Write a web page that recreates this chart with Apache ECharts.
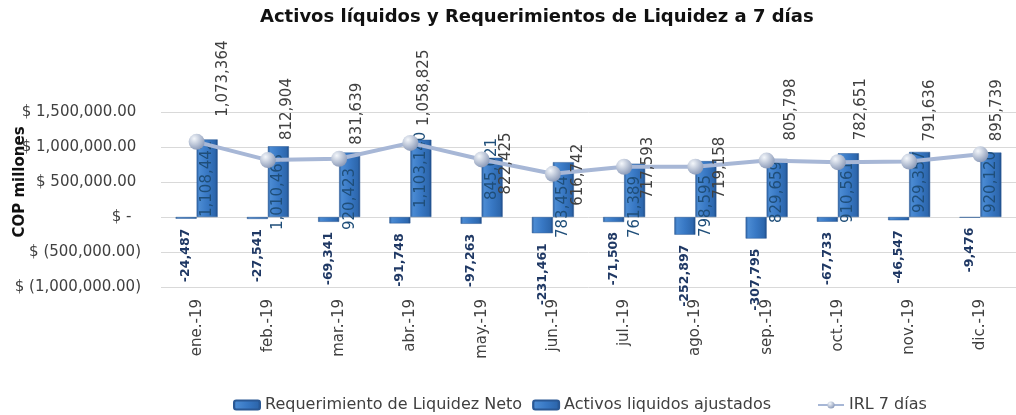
<!DOCTYPE html>
<html>
<head>
<meta charset="utf-8">
<script src="https://cdn.jsdelivr.net/npm/echarts@6/dist/echarts.min.js"></script>
<style>
  html, body { margin: 0; background: #fff; }
  #chart { width: 1016px; height: 415px; }
</style>
</head>
<body>
<div id="chart"></div>
<script>
// datos
const months = ['ene.-19', 'feb.-19', 'mar.-19', 'abr.-19', 'may.-19', 'jun.-19',
                'jul.-19', 'ago.-19', 'sep.-19', 'oct.-19', 'nov.-19', 'dic.-19'];
const requerimiento = [-24487, -27541, -69341, -91748, -97263, -231461,
                       -71508, -252897, -307795, -67733, -46547, -9476];
const activos = [1108442, 1010463, 920423, 1103140, 845021, 783454,
                 761389, 798595, 829659, 910561, 929357, 920120];
const irl = [1073364, 812904, 831639, 1058825, 822425, 616742,
             717593, 719158, 805798, 782651, 791636, 895739];
const yMin = -1000000, yMax = 1500000, yStep = 500000;

// desplazamientos manuales de etiquetas en pantalla (como en el original)
const activosLabelDy = [0, 13, 13, -9, -17, 21, 21, 20, 6, 6, -4, -4];
const irlLabelDx = [26, 19, 18, 14, 24, 25, 24, 25, 24, 23, 21, 17];
const irlLabelDy = [-25, -20, -14, -17, 35, 32, 32, 32, -20, -22, -20, -13];

const FONT = 'DejaVu Sans';

function miles(n, dec) {
  let s = Math.abs(n).toFixed(dec || 0);
  let parts = s.split('.');
  parts[0] = parts[0].replace(/\B(?=(\d{3})+(?!\d))/g, ',');
  return (n < 0 ? '-' : '') + parts.join('.');
}

// las etiquetas van giradas 90 grados: dx/dy de labelLayout se aplican en el marco girado
function shift(sx, sy) {
  return { dx: -sy, dy: sx };
}

const barColor = {
  type: 'linear', x: 0, y: 0, x2: 1, y2: 0,
  colorStops: [
    { offset: 0, color: '#2a5d9c' },
    { offset: 0.12, color: '#4b8bd3' },
    { offset: 0.5, color: '#3878c4' },
    { offset: 0.88, color: '#2d67ad' },
    { offset: 1, color: '#1d4a85' }
  ]
};

const legendBase = {
  top: 392,
  itemGap: 10,
  itemWidth: 26,
  itemHeight: 9,
  textStyle: { fontFamily: FONT, fontSize: 16, color: '#404040' }
};

const chart = echarts.init(document.getElementById('chart'));

chart.setOption({
  backgroundColor: '#fff',
  animation: false,
  title: {
    text: 'Activos líquidos y Requerimientos de Liquidez a 7 días',
    left: 255,
    top: 3,
    textStyle: { fontFamily: FONT, fontSize: 18, fontWeight: 'bold', color: '#111' }
  },
  legend: [
    Object.assign({ left: 228, data: ['Requerimiento de Liquidez Neto', 'Activos liquidos ajustados'] }, legendBase),
    Object.assign({ left: 812, data: ['IRL 7 días'] }, legendBase)
  ],
  graphic: [{
    type: 'text',
    x: 20,
    y: 182,
    rotation: Math.PI / 2,
    style: {
      text: 'COP millones',
      font: 'bold 15px "DejaVu Sans"',
      fill: '#111',
      align: 'center',
      verticalAlign: 'middle'
    }
  }],
  grid: { left: 161, top: 112, width: 859, height: 175 },
  xAxis: {
    type: 'category',
    data: months,
    axisLine: { show: false },
    axisTick: { show: false },
    axisLabel: {
      rotate: 90,
      margin: 12,
      fontFamily: FONT,
      fontSize: 15,
      color: '#404040'
    }
  },
  yAxis: {
    type: 'value',
    min: yMin,
    max: yMax,
    interval: yStep,
    axisLine: { show: false },
    axisTick: { show: false },
    splitLine: { show: true, lineStyle: { color: '#d9d9d9', width: 1 } },
    axisLabel: {
      margin: 20,
      fontFamily: FONT,
      fontSize: 15,
      color: '#404040',
      formatter: function (v) {
        if (v === 0) return '$ -  ';
        if (v < 0) return '$ (' + miles(-v, 2) + ')';
        return '$ ' + miles(v, 2) + ' ';
      }
    }
  },
  series: [
    {
      name: 'Requerimiento de Liquidez Neto',
      type: 'bar',
      data: requerimiento,
      barWidth: 21,
      barGap: '0%',
      itemStyle: { color: barColor, borderColor: '#2a5894', borderWidth: 0.5 },
      label: {
        show: true,
        position: 'bottom',
        distance: 10,
        rotate: 90,
        align: 'right',
        verticalAlign: 'middle',
        fontFamily: FONT,
        fontSize: 12.5,
        fontWeight: 'bold',
        color: '#1f3864',
        formatter: function (p) { return miles(p.value); }
      }
    },
    {
      name: 'Activos liquidos ajustados',
      type: 'bar',
      data: activos,
      barWidth: 21,
      barGap: '0%',
      itemStyle: { color: barColor, borderColor: '#2a5894', borderWidth: 0.5 },
      label: {
        show: true,
        position: 'insideBottom',
        distance: 0,
        rotate: 90,
        align: 'left',
        verticalAlign: 'middle',
        fontFamily: FONT,
        fontSize: 15,
        color: '#1f4e79',
        formatter: function (p) { return miles(p.value); }
      },
      labelLayout: function (p) {
        return shift(0, activosLabelDy[p.dataIndex]);
      }
    },
    {
      name: 'IRL 7 días',
      type: 'line',
      data: irl,
      z: 5,
      symbol: 'circle',
      symbolSize: 16,
      lineStyle: { color: '#a7b7d6', width: 4 },
      itemStyle: {
        color: {
          type: 'radial', x: 0.35, y: 0.3, r: 0.75,
          colorStops: [
            { offset: 0, color: '#f4f7fb' },
            { offset: 1, color: '#8797b6' }
          ]
        },
        borderWidth: 0
      },
      label: {
        show: true,
        position: 'inside',
        rotate: 90,
        align: 'left',
        verticalAlign: 'middle',
        fontFamily: FONT,
        fontSize: 15,
        color: '#404040',
        formatter: function (p) { return miles(p.value); }
      },
      labelLayout: function (p) {
        return shift(irlLabelDx[p.dataIndex], irlLabelDy[p.dataIndex]);
      }
    }
  ]
});
</script>
</body>
</html>
